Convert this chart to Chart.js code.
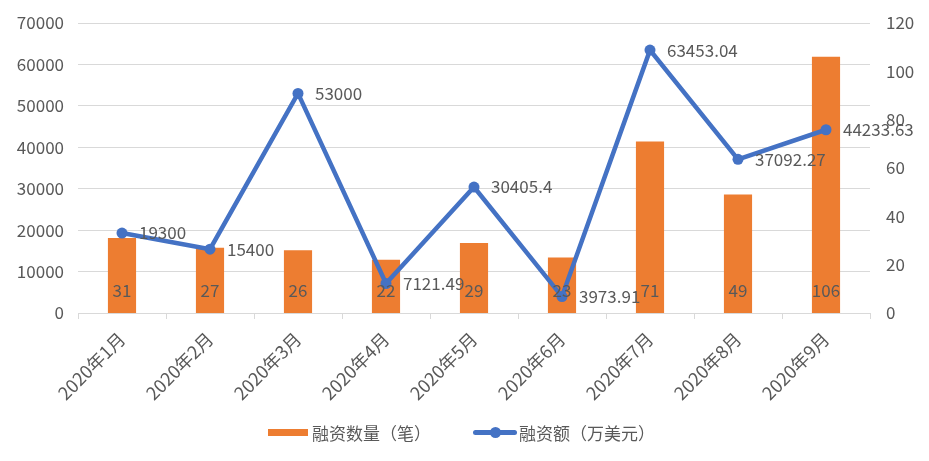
<!DOCTYPE html>
<html>
<head>
<meta charset="utf-8">
<script src="https://cdn.jsdelivr.net/npm/chart.js@4/dist/chart.umd.min.js"></script>
<style>
  html, body { margin: 0; padding: 0; background: #fff; }
  #wrap { position: relative; width: 929px; height: 461px; }
  #legend { position: absolute; left: 0; top: 421px; width: 929px; height: 24px;
    font-family: "Noto Sans CJK SC", "Noto Sans", sans-serif; font-size: 17px; color: #595959; }
  .item { position: absolute; top: 0; height: 24px; line-height: 24px; white-space: nowrap; }
  .swatch-bar { position: absolute; width: 40px; height: 7px; background: #ED7D31; top: 8px; }
  .swatch-line { position: absolute; width: 44px; height: 5px; background: #4472C4; top: 9px; border-radius: 3px; }
  .swatch-dot { position: absolute; width: 11px; height: 11px; background: #4472C4; border-radius: 50%; top: 6px; }
</style>
</head>
<body>
<div id="wrap">
  <canvas id="c" width="929" height="461"></canvas>
  <div id="legend">
    <div class="item" style="left:268px;"><span class="swatch-bar" style="left:0;"></span><span style="position:absolute;left:44px;">融资数量（笔）</span></div>
    <div class="item" style="left:473px;"><span class="swatch-line" style="left:0;"></span><span class="swatch-dot" style="left:17px;"></span><span style="position:absolute;left:46px;">融资额（万美元）</span></div>
  </div>
</div>
<script>
const categories = ["2020年1月","2020年2月","2020年3月","2020年4月","2020年5月","2020年6月","2020年7月","2020年8月","2020年9月"];
const dealCounts = [31, 27, 26, 22, 29, 23, 71, 49, 106];
const dealAmounts = [19300, 15400, 53000, 7121.49, 30405.4, 3973.91, 63453.04, 37092.27, 44233.63];
const amountLabels = ["19300","15400","53000","7121.49","30405.4","3973.91","63453.04","37092.27","44233.63"];

const FONT = '"Noto Sans CJK SC", "Noto Sans", sans-serif';
const TXT = '#595959';

const labelPlugin = {
  id: 'valueLabels',
  afterDatasetsDraw(chart) {
    const ctx = chart.ctx;
    ctx.save();
    ctx.font = '17px ' + FONT;
    ctx.fillStyle = TXT;
    const barMeta = chart.getDatasetMeta(1);
    ctx.textAlign = 'center';
    ctx.textBaseline = 'middle';
    barMeta.data.forEach((el, i) => {
      ctx.fillText(String(dealCounts[i]), el.x, el.base - 22);
    });
    const lineMeta = chart.getDatasetMeta(0);
    ctx.textAlign = 'left';
    lineMeta.data.forEach((el, i) => {
      ctx.fillText(amountLabels[i], el.x + 17, el.y);
    });
    ctx.restore();
  }
};

new Chart(document.getElementById('c'), {
  type: 'bar',
  data: {
    labels: categories,
    datasets: [
      {
        type: 'line',
        label: '融资额（万美元）',
        data: dealAmounts,
        yAxisID: 'yL',
        borderColor: '#4472C4',
        backgroundColor: '#4472C4',
        borderWidth: 4.5,
        pointRadius: 5.5,
        pointBackgroundColor: '#4472C4',
        pointBorderColor: '#4472C4',
        pointBorderWidth: 0,
        tension: 0,
        order: 1
      },
      {
        type: 'bar',
        label: '融资数量（笔）',
        data: dealCounts,
        yAxisID: 'yR',
        backgroundColor: '#ED7D31',
        borderWidth: 0,
        categoryPercentage: 1,
        barPercentage: 0.32,
        order: 2
      }
    ]
  },
  options: {
    responsive: false,
    animation: false,
    devicePixelRatio: 1,
    layout: { padding: { top: 23, left: 0, right: 0, bottom: 0 } },
    plugins: { legend: { display: false }, tooltip: { enabled: false } },
    scales: {
      x: {
        offset: true,
        grid: { display: true, drawOnChartArea: false, drawTicks: true, tickLength: 6, color: '#D9D9D9', offset: true },
        border: { display: true, color: '#D9D9D9', width: 1 },
        ticks: { color: TXT, font: { family: FONT, size: 18 }, minRotation: 45, maxRotation: 45, padding: 9, autoSkip: false },
        afterFit(s) { s.height = 148; }
      },
      yL: {
        position: 'left',
        min: 0, max: 70000,
        ticks: { stepSize: 10000, color: TXT, font: { family: FONT, size: 17 }, padding: 14,
          callback: (v) => String(v) },
        grid: { color: '#D9D9D9', lineWidth: 1, drawTicks: false },
        border: { display: false },
        afterFit(s) { s.width = 78; s.paddingTop = 0; s.paddingBottom = 0; }
      },
      yR: {
        position: 'right',
        min: 0, max: 120,
        ticks: { stepSize: 20, color: TXT, font: { family: FONT, size: 17 }, padding: 16,
          callback: (v) => String(v) },
        grid: { display: false, drawTicks: false },
        border: { display: false },
        afterFit(s) { s.width = 59; s.paddingTop = 0; s.paddingBottom = 0; }
      }
    }
  },
  plugins: [labelPlugin]
});
</script>
</body>
</html>
